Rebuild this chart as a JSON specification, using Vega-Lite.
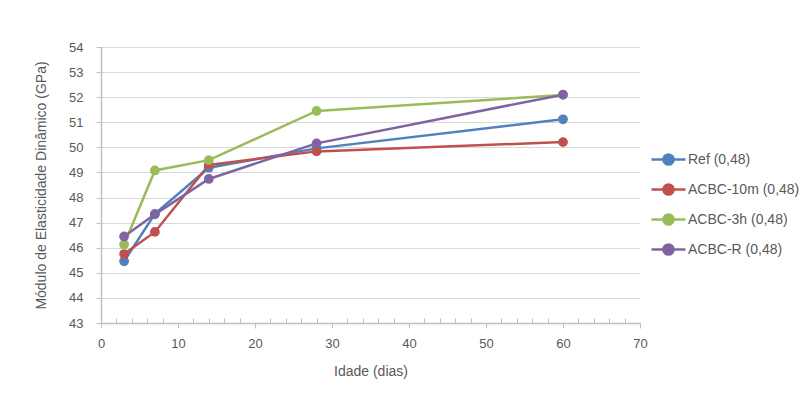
{
  "$schema": "https://vega.github.io/schema/vega-lite/v6.json",
  "width": 539,
  "height": 276,
  "autosize": {"type": "none"},
  "padding": {"left": 101, "top": 47, "right": 172, "bottom": 76},
  "background": "white",
  "data": {
    "values": [
      {"serie": "Ref (0,48)", "dias": 3, "modulo": 45.46},
      {"serie": "Ref (0,48)", "dias": 7, "modulo": 47.35},
      {"serie": "Ref (0,48)", "dias": 14, "modulo": 49.19},
      {"serie": "Ref (0,48)", "dias": 28, "modulo": 49.96},
      {"serie": "Ref (0,48)", "dias": 60, "modulo": 51.12},
      {"serie": "ACBC-10m (0,48)", "dias": 3, "modulo": 45.75},
      {"serie": "ACBC-10m (0,48)", "dias": 7, "modulo": 46.63},
      {"serie": "ACBC-10m (0,48)", "dias": 14, "modulo": 49.3},
      {"serie": "ACBC-10m (0,48)", "dias": 28, "modulo": 49.84},
      {"serie": "ACBC-10m (0,48)", "dias": 60, "modulo": 50.21},
      {"serie": "ACBC-3h (0,48)", "dias": 3, "modulo": 46.13},
      {"serie": "ACBC-3h (0,48)", "dias": 7, "modulo": 49.08},
      {"serie": "ACBC-3h (0,48)", "dias": 14, "modulo": 49.49},
      {"serie": "ACBC-3h (0,48)", "dias": 28, "modulo": 51.45},
      {"serie": "ACBC-3h (0,48)", "dias": 60, "modulo": 52.09},
      {"serie": "ACBC-R (0,48)", "dias": 3, "modulo": 46.45},
      {"serie": "ACBC-R (0,48)", "dias": 7, "modulo": 47.33},
      {"serie": "ACBC-R (0,48)", "dias": 14, "modulo": 48.74},
      {"serie": "ACBC-R (0,48)", "dias": 28, "modulo": 50.16},
      {"serie": "ACBC-R (0,48)", "dias": 60, "modulo": 52.1}
    ]
  },
  "mark": {
    "type": "line",
    "strokeWidth": 2.5,
    "point": {"filled": true, "size": 95}
  },
  "encoding": {
    "x": {
      "field": "dias",
      "type": "quantitative",
      "scale": {"domain": [0, 70], "nice": false},
      "axis": {
        "title": "Idade (dias)",
        "values": [0,2,4,6,8,10,12,14,16,18,20,22,24,26,28,30,32,34,36,38,40,42,44,46,48,50,52,54,56,58,60,62,64,66,68,70],
        "labelExpr": "datum.value % 10 === 0 ? datum.label : ''",
        "labelFlush": false,
        "labelOverlap": false,
        "grid": false,
        "tickSize": {"condition": {"test": "datum.value % 10 === 0", "value": 5}, "value": -5},
        "labelPadding": 9,
        "titlePadding": 14
      }
    },
    "y": {
      "field": "modulo",
      "type": "quantitative",
      "scale": {"domain": [43, 54], "nice": false, "zero": false},
      "axis": {
        "title": "Módulo de Elasticidade Dinâmico (GPa)",
        "values": [43,43.5,44,44.5,45,45.5,46,46.5,47,47.5,48,48.5,49,49.5,50,50.5,51,51.5,52,52.5,53,53.5,54],
        "format": "d",
        "labelExpr": "datum.value % 1 === 0 ? datum.label : ''",
        "labelOverlap": false,
        "labelFlush": false,
        "grid": true,
        "gridOpacity": {"condition": {"test": "datum.value % 1 !== 0", "value": 0}, "value": 1},
        "tickSize": {"condition": {"test": "datum.value % 1 === 0", "value": 5}, "value": -4},
        "labelPadding": 13,
        "titlePadding": 20
      }
    },
    "color": {
      "field": "serie",
      "type": "nominal",
      "sort": ["Ref (0,48)", "ACBC-10m (0,48)", "ACBC-3h (0,48)", "ACBC-R (0,48)"],
      "scale": {
        "domain": ["Ref (0,48)", "ACBC-10m (0,48)", "ACBC-3h (0,48)", "ACBC-R (0,48)"],
        "range": ["#4F81BD", "#C0504D", "#9BBB59", "#8064A2"]
      },
      "legend": {
        "title": null,
        "orient": "none",
        "legendX": 549,
        "legendY": 94,
        "symbolType": "M-1,0L1,0M0.3,0A0.3,0.3,0,1,1,-0.3,0A0.3,0.3,0,1,1,0.3,0Z",
        "symbolSize": 1156,
        "symbolStrokeWidth": 2.5,
        "rowPadding": 1,
        "labelOffset": 1,
        "labelFont": "Liberation Sans",
        "labelFontSize": 14,
        "labelColor": "#595959",
        "labelLimit": 200
      }
    }
  },
  "config": {
    "view": {"stroke": null},
    "font": "Liberation Sans",
    "axis": {
      "domainColor": "#bfbfbf",
      "domainWidth": 1.5,
      "tickColor": "#bfbfbf",
      "tickWidth": 1,
      "gridColor": "#d9d9d9",
      "gridWidth": 1,
      "labelFont": "Liberation Sans",
      "labelFontSize": 13,
      "labelColor": "#595959",
      "titleFont": "Liberation Sans",
      "titleFontSize": 14,
      "titleFontWeight": "normal",
      "titleColor": "#595959"
    }
  }
}
